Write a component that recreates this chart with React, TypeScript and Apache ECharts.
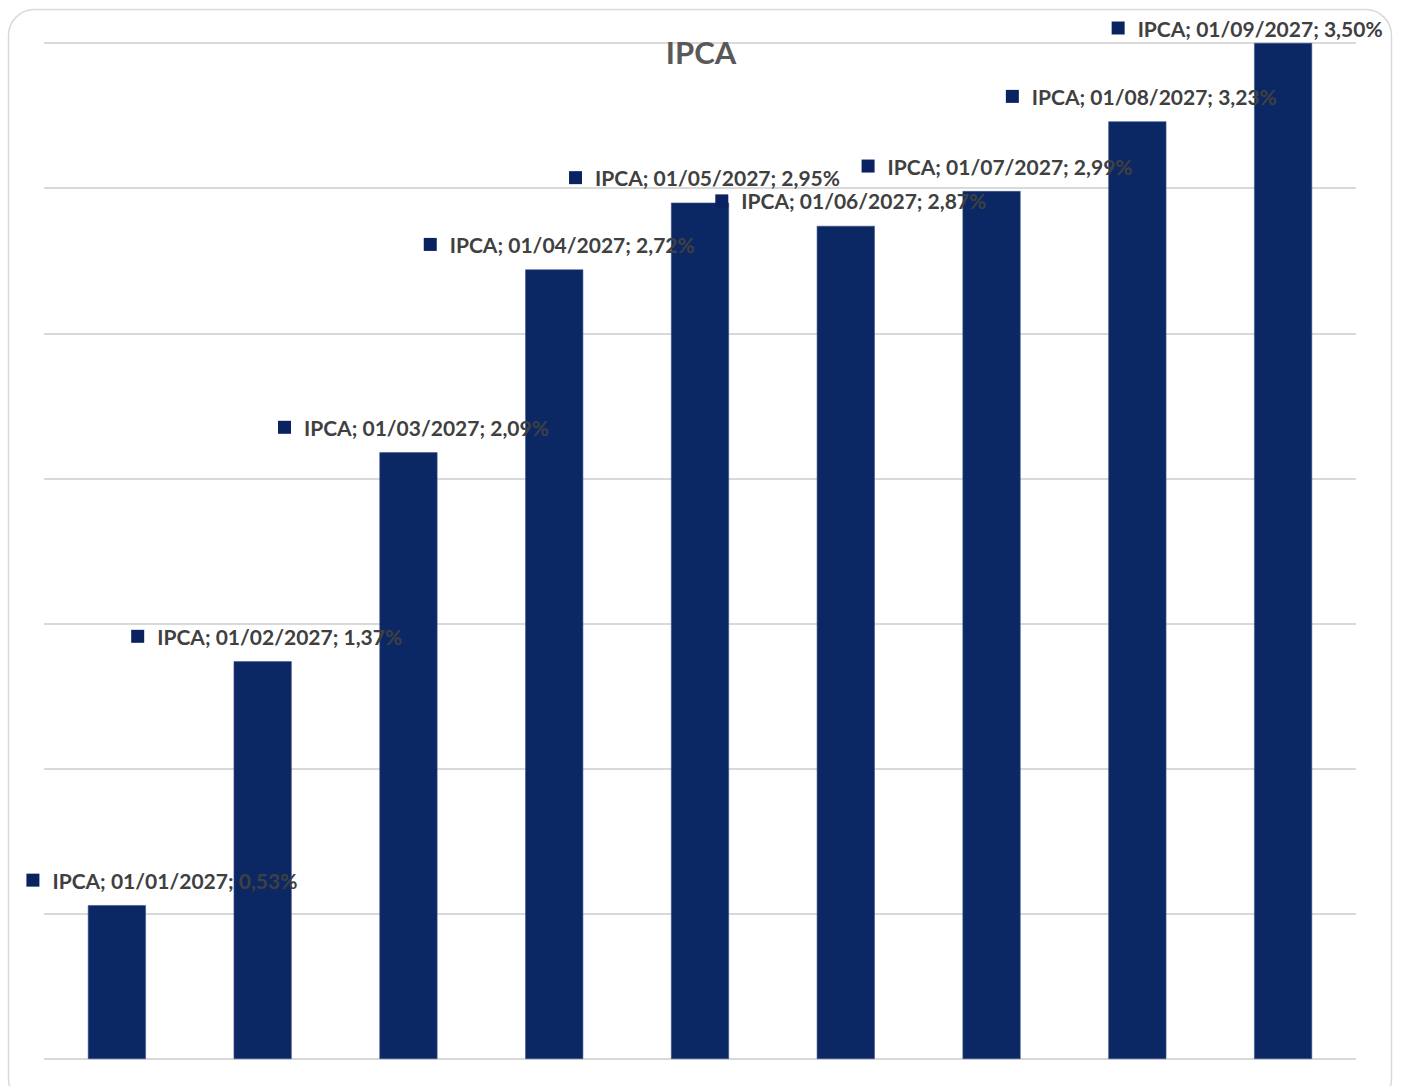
import React, { useEffect, useRef } from "react";
import * as echarts from "echarts";

const categories = ["01/01/2027", "01/02/2027", "01/03/2027", "01/04/2027", "01/05/2027", "01/06/2027", "01/07/2027", "01/08/2027", "01/09/2027"];
const values = [0.53, 1.37, 2.09, 2.72, 2.95, 2.87, 2.99, 3.23, 3.5];
const seriesName = "IPCA";
const labelShiftX = [45, 4, 5, 5, 4.5, 5, 5.5, 4, -36];
const labelShiftY = [0, 0, 0, 0, 0, 0, 0, 0, 10];

export default function App() {
  const ref = useRef<HTMLDivElement>(null);
  useEffect(() => {
    const chart = echarts.init(ref.current!, null, { renderer: "svg" });
    const fmt = (v: number) => v.toFixed(2).replace(".", ",") + "%";
    chart.setOption({
      animation: false,
      backgroundColor: "#ffffff",
      title: {
        text: seriesName,
        left: "center",
        top: 31,
        textStyle: { fontFamily: "Lato", fontWeight: "bold", fontSize: 31, color: "#595959" },
      },
      graphic: [
        {
          type: "rect",
          shape: { x: 8.5, y: 9.5, width: 1383, height: 1095, r: 26 },
          style: { fill: "none", stroke: "#d9d9d9", lineWidth: 1.5 },
          silent: true,
          z: -1,
        },
      ],
      grid: { left: 44, right: 46, top: 43, bottom: 27, containLabel: false },
      xAxis: {
        type: "category",
        data: categories,
        axisLine: { show: false },
        axisTick: { show: false },
        axisLabel: { show: false },
      },
      yAxis: {
        type: "value",
        min: 0,
        max: 3.5,
        interval: 0.5,
        axisLabel: { show: false },
        axisLine: { show: false },
        axisTick: { show: false },
        splitLine: { lineStyle: { color: "#d9d9d9", width: 2 } },
      },
      series: [
        {
          name: seriesName,
          type: "bar",
          barWidth: 58,
          itemStyle: { color: "#0b2865", borderColor: "#3d5488", borderWidth: 0.6 },
          data: values.map((v, i) => ({
            value: v,
            label: { offset: [labelShiftX[i], labelShiftY[i]] },
          })),
          label: {
            show: true,
            position: "top",
            distance: 14.5,
            formatter: (p: any) => `{m|}{s|}{t|${seriesName}; ${categories[p.dataIndex]}; ${fmt(p.value)}}`,
            rich: {
              m: { width: 13, height: 13, backgroundColor: "#0b2261" },
              s: { width: 13 },
              t: { fontFamily: "Lato", fontWeight: "bold", fontSize: 21, color: "#404040" },
            },
          },
          z: 2,
        },
      ],
    });
    return () => chart.dispose();
  }, []);
  return <div ref={ref} style={{ position: "fixed", left: 0, top: 0, width: 1402, height: 1086 }} />;
}
